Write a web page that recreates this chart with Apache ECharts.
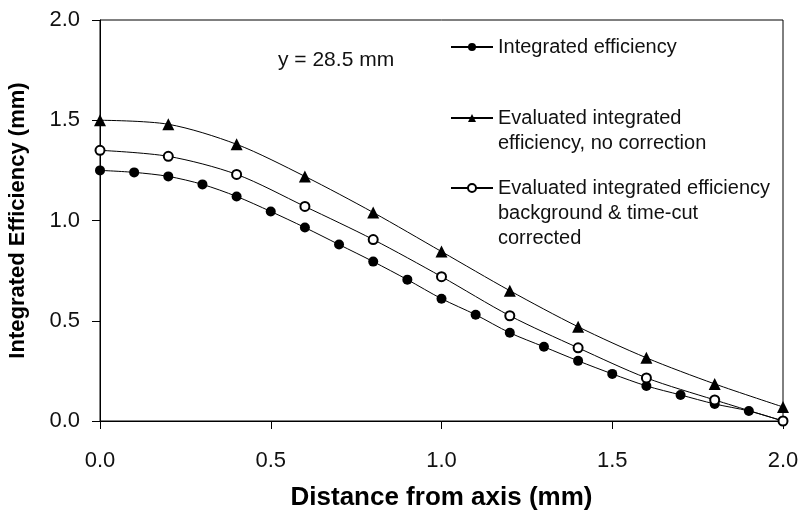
<!DOCTYPE html>
<html>
<head>
<meta charset="utf-8">
<script src="https://cdn.jsdelivr.net/npm/echarts@6/dist/echarts.min.js"></script>
<style>
  html, body { margin: 0; padding: 0; background: #fff; }
  #main { width: 800px; height: 519px; }
</style>
</head>
<body>
<div id="main"></div>
<script>
// x positions (mm)
const distFine = [0.0, 0.1, 0.2, 0.3, 0.4, 0.5, 0.6, 0.7, 0.8, 0.9, 1.0,
  1.1, 1.2, 1.3, 1.4, 1.5, 1.6, 1.7, 1.8, 1.9, 2.0]
const distCoarse = [0.0, 0.2, 0.4, 0.6, 0.8, 1.0, 1.2, 1.4, 1.6, 1.8, 2.0]

// series values
const integrated = [1.25, 1.24, 1.22, 1.18, 1.12, 1.045, 0.965, 0.88, 0.795, 0.705, 0.61,
  0.53, 0.44, 0.37, 0.30, 0.235, 0.175, 0.13, 0.085, 0.05, 0.0]
const noCorrection = [1.50, 1.48, 1.38, 1.22, 1.04, 0.845, 0.65, 0.47, 0.315, 0.185, 0.07]
const corrected = [1.35, 1.32, 1.23, 1.07, 0.905, 0.72, 0.525, 0.365, 0.215, 0.105, 0.0]

const seriesNames = [
  'Integrated efficiency',
  'Evaluated integrated\nefficiency, no correction',
  'Evaluated integrated efficiency\nbackground & time-cut\ncorrected'
]

const FONT = "'Liberation Sans', Arial, sans-serif"
const LINE_H = 25

const chart = echarts.init(document.getElementById('main'))

const pairs = (xs, ys) => xs.map((x, i) => [x, ys[i]])

// one legend per entry, icon lined up with the first text line
const legendFor = (name, firstLineY) => {
  const n = name.split('\n').length
  return {
    data: [name],
    left: 450,
    top: firstLineY - (2 * n - 1) * LINE_H / 2,
    padding: 0,
    itemWidth: 42,
    itemHeight: 10,
    itemGap: 0,
    selectedMode: false,
    formatter: (s) => '\n'.repeat(s.split('\n').length - 1) + s,
    textStyle: { fontFamily: FONT, fontSize: 20, color: '#111', lineHeight: LINE_H }
  }
}

chart.setOption({
  animation: false,
  backgroundColor: '#fff',
  grid: {
    left: 100, right: 17, top: 20, bottom: 98,
    outerBoundsMode: 'none',
    containLabel: false,
    show: true, borderColor: '#000', borderWidth: 1
  },
  legend: [
    legendFor(seriesNames[0], 47),
    legendFor(seriesNames[1], 118),
    legendFor(seriesNames[2], 188)
  ],
  graphic: [{
    type: 'text',
    left: 278, top: 50,
    style: { text: 'y = 28.5 mm', fontFamily: FONT, fontSize: 21, fill: '#111' }
  }],
  xAxis: {
    type: 'value',
    min: 0, max: 2, interval: 0.5,
    name: 'Distance from axis (mm)',
    nameLocation: 'middle',
    nameGap: 64,
    nameTextStyle: { fontFamily: FONT, fontSize: 26, fontWeight: 'bold', color: '#000' },
    axisLine: { lineStyle: { color: '#000', width: 1 } },
    axisTick: { show: true, length: 8, lineStyle: { color: '#000' } },
    axisLabel: {
      margin: 29, fontFamily: FONT, fontSize: 22, color: '#111',
      formatter: (v) => v.toFixed(1)
    },
    splitLine: { show: false }
  },
  yAxis: {
    type: 'value',
    min: 0, max: 2, interval: 0.5,
    name: 'Integrated Efficiency (mm)',
    nameLocation: 'middle',
    nameGap: 71,
    nameRotate: 90,
    nameTextStyle: { fontFamily: FONT, fontSize: 22, fontWeight: 'bold', color: '#000' },
    axisLine: { show: true, lineStyle: { color: '#000', width: 1 } },
    axisTick: { show: true, length: 8, lineStyle: { color: '#000' } },
    axisLabel: {
      margin: 20, fontFamily: FONT, fontSize: 22, color: '#111',
      formatter: (v) => v.toFixed(1)
    },
    splitLine: { show: false }
  },
  series: [
    {
      name: seriesNames[0],
      type: 'line',
      data: pairs(distFine, integrated),
      smooth: 0.3,
      clip: false,
      symbol: 'circle',
      symbolSize: 10,
      itemStyle: { color: '#000' },
      lineStyle: { color: '#000', width: 1 }
    },
    {
      name: seriesNames[1],
      type: 'line',
      data: pairs(distCoarse, noCorrection),
      smooth: 0.3,
      clip: false,
      symbol: 'triangle',
      symbolSize: 12,
      itemStyle: { color: '#000' },
      lineStyle: { color: '#000', width: 1 }
    },
    {
      name: seriesNames[2],
      type: 'line',
      data: pairs(distCoarse, corrected),
      smooth: 0.3,
      clip: false,
      symbol: 'emptyCircle',
      symbolSize: 9,
      itemStyle: { color: '#000', borderWidth: 1 },
      lineStyle: { color: '#000', width: 1 }
    }
  ]
})
</script>
</body>
</html>
